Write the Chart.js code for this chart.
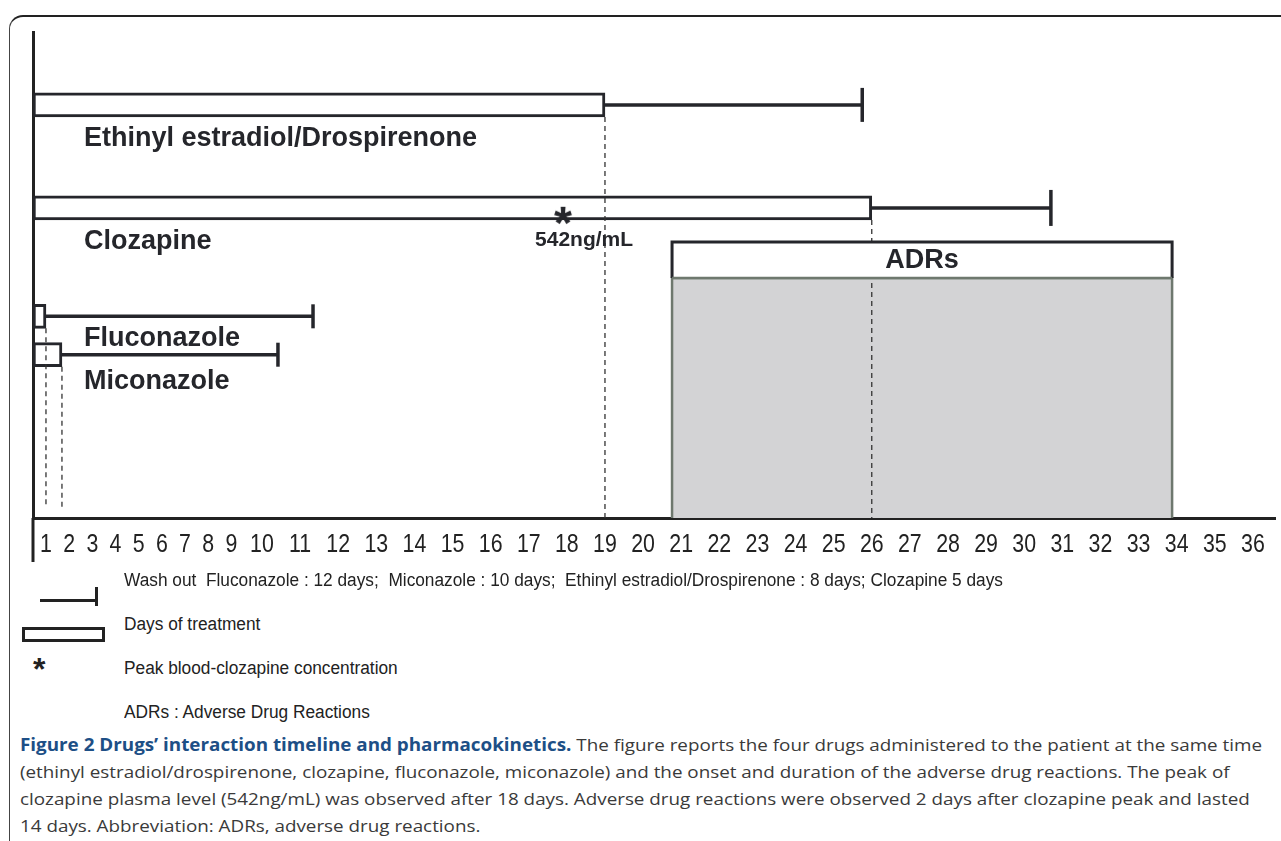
<!DOCTYPE html>
<html>
<head>
<meta charset="utf-8">
<script src="https://cdn.jsdelivr.net/npm/chart.js@4.4.1/dist/chart.umd.min.js"></script>
<style>
  html, body { margin:0; padding:0; background:#fff; width:1281px; height:841px; overflow:hidden; }
  #frame { position:absolute; left:9px; top:15px; width:1400px; height:1000px;
           border-top:2px solid #222; border-left:1.5px solid #444; border-top-left-radius:14px; }
  #c { position:absolute; left:0; top:0; }
  .sym { position:absolute; }
  .lg { position:absolute; left:124px; font-family:'Liberation Sans Narrow','Liberation Sans',Arial,sans-serif;
        font-size:18px; line-height:20px; color:#222; white-space:pre; transform-origin:0 50%; }
  .cap { position:absolute; left:20px; font-family:'Open Sans',sans-serif; font-size:17px; line-height:24px;
         color:#3a3a3a; white-space:pre; transform-origin:0 50%; }
  .cap b { color:#1d4f86; font-weight:700; }
</style>
</head>
<body>
<div id="frame"></div>
<canvas id="c" width="1281" height="575"></canvas>

<div class="sym" style="left:40px;top:599px;width:57px;height:3px;background:#222"></div>
<div class="sym" style="left:95px;top:587px;width:3px;height:19px;background:#222"></div>
<div class="sym" style="left:22px;top:627px;width:83px;height:15px;border:3px solid #222;box-sizing:border-box"></div>
<div class="sym" style="left:33px;top:653px;font:bold 32px 'Liberation Sans',Arial,sans-serif;line-height:32px;color:#222">*</div>

<div class="lg" id="lg0" style="top:570px">Wash out  Fluconazole : 12 days;  Miconazole : 10 days;  Ethinyl estradiol/Drospirenone : 8 days; Clozapine 5 days</div>
<div class="lg" style="top:614px">Days of treatment</div>
<div class="lg" style="top:658px">Peak blood-clozapine concentration</div>
<div class="lg" style="top:702px">ADRs : Adverse Drug Reactions</div>

<div class="cap" id="cap0" style="top:733px"><b>Figure 2 Drugs’ interaction timeline and pharmacokinetics.</b> The figure reports the four drugs administered to the patient at the same time</div>
<div class="cap" style="top:760px">(ethinyl estradiol/drospirenone, clozapine, fluconazole, miconazole) and the onset and duration of the adverse drug reactions. The peak of</div>
<div class="cap" style="top:787px">clozapine plasma level (542ng/mL) was observed after 18 days. Adverse drug reactions were observed 2 days after clozapine peak and lasted</div>
<div class="cap" style="top:814px">14 days. Abbreviation: ADRs, adverse drug reactions.</div>

<script>
// ---------------- data ----------------
const tickDays   = [1,2,3,4,5,6,7,8,9,10,11,12,13,14,15,16,17,18,19,20,21,22,23,24,25,26,27,28,29,30,31,32,33,34,35,36];
const tickLabels = ['1','2','3','4','5','6','7','8','9','10','11','12','13','14','15','16','17','18',
                    '19','20','21','22','23','24','25','26','27','28','29','30','31','32','33','34','35','36'];
const drugNames  = ['Ethinyl estradiol/Drospirenone', 'Clozapine', 'Fluconazole', 'Miconazole'];
const treatStart = [0.44, 0.44, 0.44, 0.44];
const treatEnd   = [19, 26, 1, 1.69];
const washEnd    = [25.75, 30.7, 11.34, 10.42];
const peakDay    = 17.9;
const peakText   = '542ng/mL';
const adrStart   = 20.76;
const adrEnd     = 33.88;
const adrText    = 'ADRs';
const axisMin    = 0.44;
const axisMax    = 36.58;

// ---------------- layout (vertical positions in % of plot height, sizes, styles) ----------------
const layout = {
  rowY:      [85.0, 63.8, 41.5, 33.6],
  barHalf:   2.47,
  adrTop:    56.8,
  adrSplit:  49.4,
  dashEnd:   [0, 0, 2.3, 2.3],
  peakY:     62.8,
  capRadius: [17, 18, 12, 12],
  labelDx:   51,
  labelDy:   [34, 34, 22, 27]
};
const INK = '#25262b';
const ADR_EDGE = '#6e786e';
const TICK_CONDENSE = 0.82;

// ---------------- x scale whose spacing follows the width of the day labels ----------------
const FLOW_GAP = 0.55;
class FlowScale extends Chart.LinearScale {
  static id = 'flow';
  buildTicks() { return tickDays.map(v => ({ value: v })); }
  configure() {
    super.configure();
    const u = [0];
    for (let i = 1; i < tickDays.length; i++) {
      u.push(u[i - 1] + (tickLabels[i - 1].length + tickLabels[i].length) / 2 + FLOW_GAP);
    }
    this._fu = u;
    this._uMin = this._flow(this.min);
    this._uMax = this._flow(this.max);
  }
  _calculatePadding() {
    this.paddingLeft = 0; this.paddingRight = 0; this.paddingTop = 0; this.paddingBottom = 0;
  }
  _flow(v) {
    const d = tickDays, u = this._fu, n = d.length;
    let i = 0;
    if (v <= d[0]) i = 0;
    else if (v >= d[n - 1]) i = n - 2;
    else { while (v > d[i + 1]) i++; }
    return u[i] + (v - d[i]) * (u[i + 1] - u[i]) / (d[i + 1] - d[i]);
  }
  getPixelForValue(v) {
    if (v === null || v === undefined || isNaN(v) || !this._fu) return NaN;
    return this.getPixelForDecimal((this._flow(v) - this._uMin) / (this._uMax - this._uMin));
  }
  getValueForPixel(p) {
    const target = this._uMin + this.getDecimalForPixel(p) * (this._uMax - this._uMin);
    let lo = this.min, hi = this.max;
    for (let k = 0; k < 40; k++) { const m = (lo + hi) / 2; if (this._flow(m) < target) lo = m; else hi = m; }
    return (lo + hi) / 2;
  }
  drawLabels(chartArea) {
    if (!this.options.ticks.display) return;
    const ctx = this.ctx;
    for (const item of this.getLabelItems(chartArea)) {
      const o = item.options;
      ctx.save();
      ctx.font = item.font.string;
      ctx.fillStyle = o.color;
      ctx.textAlign = 'center';
      ctx.textBaseline = o.textBaseline || 'middle';
      ctx.translate(o.translation[0], o.translation[1]);
      ctx.scale(TICK_CONDENSE, 1);
      ctx.fillText(item.label, 0, item.textOffset);
      ctx.restore();
    }
  }
}
Chart.register(FlowScale);

function starGlyph(size) {
  const c = document.createElement('canvas');
  c.width = c.height = Math.ceil(size);
  const g = c.getContext('2d');
  g.fillStyle = INK;
  g.font = 'bold ' + size + "px 'Liberation Sans', Arial, sans-serif";
  g.textAlign = 'center';
  g.textBaseline = 'alphabetic';
  g.fillText('*', size / 2, size / 2 + 0.57 * size);
  return c;
}

// ---------------- datasets ----------------
const datasets = [];

datasets.push({
  type: 'bar', label: 'Days of treatment', indexAxis: 'y', grouped: false,
  data: drugNames.map((n, i) => ({ x: [treatStart[i], treatEnd[i]], y: layout.rowY[i] })),
  backgroundColor: '#ffffff', borderColor: INK, borderWidth: 3, borderSkipped: false,
  barThickness: 24, order: 5
});

drugNames.forEach((n, i) => datasets.push({
  type: 'line', label: 'Wash out ' + n,
  data: [{ x: treatEnd[i], y: layout.rowY[i] }, { x: washEnd[i], y: layout.rowY[i] }],
  borderColor: INK, borderWidth: 3.5, fill: false,
  pointRadius: [0, layout.capRadius[i]], pointStyle: 'line', pointRotation: 90,
  pointBorderWidth: 3.5, pointBorderColor: INK, order: 3
}));

drugNames.forEach((n, i) => datasets.push({
  type: 'line', label: 'end ' + n,
  data: [{ x: treatEnd[i], y: layout.rowY[i] - layout.barHalf }, { x: treatEnd[i], y: layout.dashEnd[i] }],
  borderColor: '#333333', borderWidth: 1.3, borderDash: [5, 4], pointRadius: 0, fill: false, order: 4
}));

datasets.push({
  type: 'line', label: 'ADRs',
  data: [{ x: adrStart, y: 0 }, { x: adrStart, y: layout.adrSplit }, { x: adrEnd, y: layout.adrSplit }, { x: adrEnd, y: 0 }],
  borderColor: ADR_EDGE, borderWidth: 2.5, backgroundColor: '#d3d3d5', fill: 'origin', pointRadius: 0, order: 6
});

datasets.push({
  type: 'line', label: 'ADRs header',
  data: [{ x: adrStart, y: layout.adrSplit }, { x: adrStart, y: layout.adrTop }, { x: adrEnd, y: layout.adrTop },
         { x: adrEnd, y: layout.adrSplit }, { x: adrStart, y: layout.adrSplit }],
  borderColor: INK, borderWidth: 3, backgroundColor: '#ffffff', fill: { value: layout.adrSplit },
  segment: { borderColor: c => (c.p0DataIndex === 3 ? ADR_EDGE : undefined), borderWidth: c => (c.p0DataIndex === 3 ? 2.5 : undefined) },
  pointRadius: 0, order: 2
});

datasets.push({
  type: 'line', label: 'Peak',
  data: [{ x: peakDay, y: layout.peakY }],
  showLine: false, pointStyle: starGlyph(46), pointRadius: 10, order: 1
});

// ---------------- texts drawn on the chart ----------------
const overlay = {
  id: 'overlay',
  afterDatasetsDraw(chart) {
    const { ctx, chartArea, scales: { x, y } } = chart;
    ctx.save();
    ctx.strokeStyle = '#222'; ctx.lineWidth = 3;
    ctx.beginPath();
    ctx.moveTo(chartArea.left, chartArea.bottom);
    ctx.lineTo(chartArea.left, chartArea.bottom + 44);
    ctx.stroke();

    ctx.fillStyle = INK;
    ctx.textBaseline = 'middle';
    ctx.textAlign = 'left';
    ctx.font = "bold 27px 'Liberation Sans', Arial, sans-serif";
    drugNames.forEach((n, i) => {
      ctx.fillText(n, chartArea.left + layout.labelDx, y.getPixelForValue(layout.rowY[i]) + layout.labelDy[i]);
    });
    ctx.textAlign = 'center';
    ctx.fillText(adrText, (x.getPixelForValue(adrStart) + x.getPixelForValue(adrEnd)) / 2,
                 (y.getPixelForValue(layout.adrTop) + y.getPixelForValue(layout.adrSplit)) / 2 + 1);
    ctx.font = "bold 21px 'Liberation Sans', Arial, sans-serif";
    ctx.fillText(peakText, x.getPixelForValue(peakDay) + 21, y.getPixelForValue(layout.peakY) + 27);
    ctx.restore();
  }
};

new Chart(document.getElementById('c'), {
  type: 'bar',
  data: { datasets },
  options: {
    responsive: false, animation: false, devicePixelRatio: 1, events: [],
    layout: { autoPadding: false, padding: { left: 33, right: 6, top: 32, bottom: 5 } },
    plugins: { legend: { display: false }, tooltip: { enabled: false } },
    elements: { line: { tension: 0, borderCapStyle: 'butt', borderJoinStyle: 'miter' } },
    scales: {
      x: {
        type: 'flow', min: axisMin, max: axisMax, offset: false,
        grid: { display: false, drawTicks: false, offset: false },
        border: { display: true, width: 3, color: '#222' },
        ticks: {
          autoSkip: false, maxRotation: 0, minRotation: 0, padding: 11, color: '#222',
          font: { family: "'Liberation Sans', Arial, sans-serif", size: 26 },
          callback: (v, i) => tickLabels[i]
        },
        afterFit: s => { s.height = 52; }
      },
      y: {
        type: 'linear', min: 0, max: 100, offset: false,
        grid: { display: false, drawTicks: false, offset: false },
        ticks: { display: false },
        border: { display: true, width: 3, color: '#222' },
        afterFit: s => { s.width = 0; }
      }
    }
  },
  plugins: [overlay]
});

// ---------------- fit legend and caption text widths ----------------
function fitGroup(firstId, cls, target) {
  const first = document.getElementById(firstId);
  const w = first.getBoundingClientRect().width;
  const s = target / w;
  document.querySelectorAll('.' + cls).forEach(el => { el.style.transform = 'scaleX(' + s + ')'; });
}
fitGroup('lg0', 'lg', 879);
fitGroup('cap0', 'cap', 1242);
</script>
</body>
</html>
